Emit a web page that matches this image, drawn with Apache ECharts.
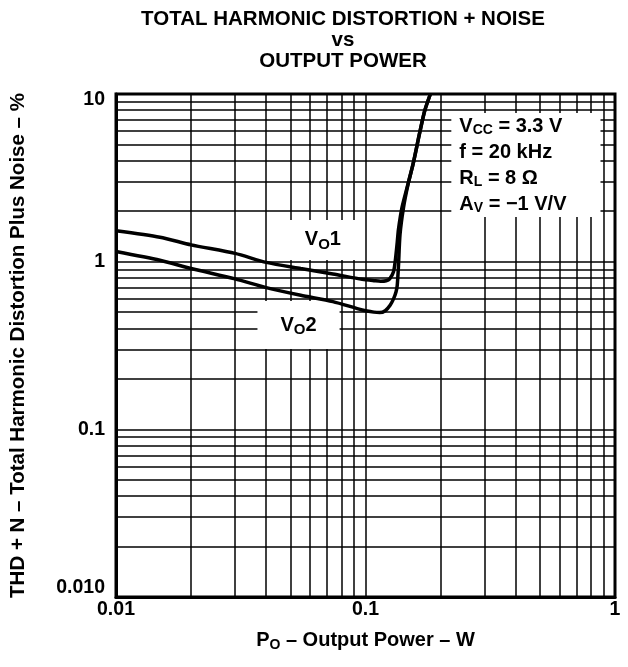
<!DOCTYPE html>
<html>
<head>
<meta charset="utf-8">
<script src="https://cdn.jsdelivr.net/npm/echarts@6/dist/echarts.min.js"></script>
<style>
  html, body { margin: 0; padding: 0; background: #fff; }
  #chart { width: 628px; height: 667px; }
</style>
</head>
<body>
<div id="chart"></div>
<script>
// values (log-log)
var vo1Power = [0.01, 0.015, 0.02, 0.03, 0.04, 0.055, 0.074, 0.097, 0.109, 0.115, 0.121, 0.125, 0.1295, 0.132, 0.134, 0.1355, 0.14, 0.148, 0.155, 0.165, 0.1725, 0.182];
var vo1Thd   = [1.53, 1.4, 1.26, 1.12, 0.99, 0.91, 0.845, 0.785, 0.77, 0.765, 0.77, 0.79, 0.87, 1.05, 1.3, 1.55, 2.1, 2.9, 3.8, 5.9, 7.9, 10];
var vo2Power = [0.01, 0.015, 0.02, 0.03, 0.04, 0.055, 0.074, 0.097, 0.108, 0.114, 0.12, 0.1255, 0.1295, 0.1325, 0.134, 0.1355, 0.1375, 0.142, 0.1485, 0.155, 0.165, 0.1725, 0.182];
var vo2Thd   = [1.15, 1.02, 0.91, 0.79, 0.70, 0.63, 0.578, 0.515, 0.5, 0.497, 0.51, 0.55, 0.6, 0.66, 0.72, 0.93, 1.45, 2.1, 2.95, 3.8, 5.9, 7.9, 10];

var xDecades = [0.01, 0.1];        // minor grid 2..9 in each
var yDecades = [0.01, 0.1, 1];
var xMin = 0.01, xMax = 1;
var yMin = 0.01, yMax = 10;

var font = 'Liberation Sans, Arial, sans-serif';

function pairs(xs, ys) {
  var out = [];
  for (var i = 0; i < xs.length; i++) out.push([xs[i], ys[i]]);
  return out;
}

// minor log grid lines
var gridLines = [];
xDecades.forEach(function (d) {
  for (var m = 2; m <= 9; m++) gridLines.push({ xAxis: +(m * d).toPrecision(3) });
});
yDecades.forEach(function (d) {
  for (var m = 2; m <= 9; m++) gridLines.push({ yAxis: +(m * d).toPrecision(3) });
});

function st(size, extra) {
  var o = { fontFamily: font, fontWeight: 'bold', color: '#000', fontSize: size };
  for (var k in extra) o[k] = extra[k];
  return o;
}

var chart = echarts.init(document.getElementById('chart'));

var option = {
  animation: false,
  backgroundColor: '#fff',
  title: {
    text: 'TOTAL HARMONIC DISTORTION + NOISE\nvs\nOUTPUT POWER',
    left: 338,
    top: 4,
    textAlign: 'center',
    textStyle: st(20.5, { lineHeight: 21 })
  },
  grid: {
    left: 112, top: 94, right: 13, bottom: 70,
    show: true, borderColor: '#000', borderWidth: 3, backgroundColor: '#fff'
  },
  xAxis: {
    type: 'log', logBase: 10, min: xMin, max: xMax,
    name: '{t|P}{s|O}{t| – Output Power – W}',
    nameLocation: 'middle', nameGap: 32,
    nameTextStyle: {
      rich: {
        t: st(20),
        s: st(14, { padding: [9, 0, 0, 0] })
      }
    },
    axisLine: { show: true, lineStyle: { color: '#000', width: 3 } },
    axisTick: { show: false },
    axisLabel: st(19.5, {
      margin: 3,
      formatter: function (v) { return String(+v.toPrecision(2)); }
    }),
    splitLine: { show: true, lineStyle: { color: '#000', width: 1.5 } },
    minorTick: { show: false }, minorSplitLine: { show: false }
  },
  yAxis: {
    type: 'log', logBase: 10, min: yMin, max: yMax,
    name: 'THD + N – Total Harmonic Distortion Plus Noise – %',
    nameLocation: 'middle', nameGap: 87, nameRotate: 90,
    nameTextStyle: st(20.5),
    axisLine: { show: true, lineStyle: { color: '#000', width: 3 } },
    axisTick: { show: false },
    axisLabel: st(19.5, {
      margin: 11,
      formatter: function (v) {
        var r = +v.toPrecision(2);
        if (r === 0.01) return '{lo|0.010}';
        if (r === 10) return '{hi|10}';
        return String(r);
      },
      rich: {
        lo: st(19.5, { padding: [0, 0, 18, 0] }),
        hi: st(19.5, { padding: [12, 0, 0, 0] })
      }
    }),
    splitLine: { show: true, lineStyle: { color: '#000', width: 1.5 } },
    minorTick: { show: false }, minorSplitLine: { show: false }
  },
  series: [
    {
      name: 'grid',
      type: 'line',
      data: [],
      z: 1,
      silent: true,
      markLine: {
        z: 1,
        silent: true, symbol: 'none', animation: false,
        label: { show: false },
        lineStyle: { type: 'solid', color: '#000', width: 1.5 },
        data: gridLines
      }
    },
    {
      name: 'labels',
      type: 'scatter',
      z: 3,
      symbolSize: 0,
      silent: true,
      itemStyle: { opacity: 1 },
      data: [
        {
          value: [0.0675, 1.347],
          label: {
            show: true, position: 'inside', opacity: 1,
            formatter: '{b|V}{s|O}{b|1}',
            backgroundColor: '#fff', padding: [8, 22, 8, 22],
            rich: {
              b: st(20),
              s: st(15, { padding: [9, 0, 0, 0] })
            }
          }
        },
        {
          value: [0.0539, 0.419],
          label: {
            show: true, position: 'inside', opacity: 1,
            formatter: '{b|V}{s|O}{b|2}',
            backgroundColor: '#fff', padding: [12, 23, 12, 23],
            rich: {
              b: st(20),
              s: st(15, { padding: [9, 0, 0, 0] })
            }
          }
        },
        {
          value: [0.2208, 3.77],
          label: {
            show: true, position: 'right', distance: 0, align: 'left', opacity: 1,
            formatter: '{b|V}{s|CC}{b| = 3.3 V}\n{b|f = 20 kHz}\n{b|R}{s|L}{b| = 8 Ω}\n{b|A}{s|V}{b| = −1 V/V}',
            backgroundColor: '#fff', padding: [0, 34, 0, 8],
            rich: {
              b: st(20, { lineHeight: 26 }),
              s: st(14, { lineHeight: 26, padding: [9, 0, 0, 0] })
            }
          }
        }
      ]
    },
    {
      name: 'VO1',
      type: 'line',
      z: 4,
      smooth: 0.25,
      symbol: 'none',
      lineStyle: { color: '#000', width: 3.5 },
      data: pairs(vo1Power, vo1Thd)
    },
    {
      name: 'VO2',
      type: 'line',
      z: 4,
      smooth: 0.25,
      symbol: 'none',
      lineStyle: { color: '#000', width: 3.5 },
      data: pairs(vo2Power, vo2Thd)
    }
  ]
};

chart.setOption(option);
</script>
</body>
</html>
